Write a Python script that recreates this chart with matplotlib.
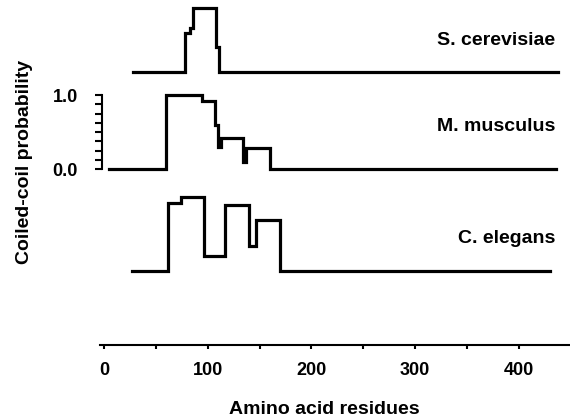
import matplotlib
matplotlib.use("Agg")
import matplotlib.pyplot as plt
from matplotlib.ticker import FixedLocator

plt.rcParams['font.family'] = ['Liberation Sans', 'DejaVu Sans']
plt.rcParams['font.weight'] = 'bold'

# step traces: residue where each level starts, level value (last residue = end of line)
cerevisiae_res = [28, 78, 83, 86, 108, 111, 438]
cerevisiae_val = [0.0, 0.53, 0.59, 0.86, 0.34, 0.0, 0.0]

musculus_res = [5, 60, 94, 107, 110, 113, 134, 137, 160, 436]
musculus_val = [0.0, 1.0, 0.92, 0.6, 0.3, 0.42, 0.1, 0.28, 0.0, 0.0]

elegans_res = [27, 62, 74, 96, 117, 140, 147, 170, 430]
elegans_val = [0.0, 0.92, 1.0, 0.2, 0.89, 0.34, 0.69, 0.0, 0.0]

species = ["S. cerevisiae", "M. musculus", "C. elegans"]
offsets = [1.31, 0.0, -1.38]
label_y = [0.43, 0.58, 0.44]

x_ticks = [0, 100, 200, 300, 400]
x_minor = [50, 150, 250, 350]
y_ticks = [0.0, 1.0]
y_labels = ["0.0", "1.0"]
y_minor = [0.125, 0.25, 0.375, 0.5, 0.625, 0.75, 0.875]

fig = plt.figure(figsize=(5.7, 4.19), dpi=100)
ax = fig.add_axes([102 / 570, 0, 1 - 102 / 570, 1])
ax.set_xlim(-1.93, 449.2)
ax.set_ylim(-3.378, 2.284)

traces = [(cerevisiae_res, cerevisiae_val), (musculus_res, musculus_val),
          (elegans_res, elegans_val)]
for (res, val), off, name, ly in zip(traces, offsets, species, label_y):
    ax.step(res, [v + off for v in val], where='post', color='black',
            lw=2.3, solid_joinstyle='miter')
    ax.text(435, off + ly, name, ha='right', va='center', fontsize=14,
            fontweight='bold')

for s in ['top', 'right']:
    ax.spines[s].set_visible(False)

ax.spines['left'].set_bounds(0, 1)
ax.spines['left'].set_linewidth(1.5)
ax.spines['bottom'].set_position(('data', -2.38))
ax.spines['bottom'].set_bounds(-4, 449)
ax.spines['bottom'].set_linewidth(1.5)

ax.yaxis.set_major_locator(FixedLocator(y_ticks))
ax.yaxis.set_minor_locator(FixedLocator(y_minor))
ax.tick_params(axis='y', which='both', length=5, width=1.5, labelleft=False)
# y tick labels placed a bit further out, as in the original
for yv, lab in zip(y_ticks, y_labels):
    ax.text(-25, yv - 0.03, lab, ha='right', va='center', fontsize=13,
            fontweight='bold', clip_on=False)

ax.xaxis.set_major_locator(FixedLocator(x_ticks))
ax.xaxis.set_minor_locator(FixedLocator(x_minor))
ax.tick_params(axis='x', which='both', length=3, width=1.5, pad=9,
               labelsize=13)
for lab in ax.get_xticklabels():
    lab.set_fontweight('bold')

fig.text(324 / 570, 1 - 409 / 419, "Amino acid residues", ha='center',
         va='center', fontsize=14, fontweight='bold')
fig.text(25 / 570, 1 - 162 / 419, "Coiled-coil probability", ha='center',
         va='center', rotation=90, fontsize=14, fontweight='bold')

fig.savefig("out.png", dpi=100)
